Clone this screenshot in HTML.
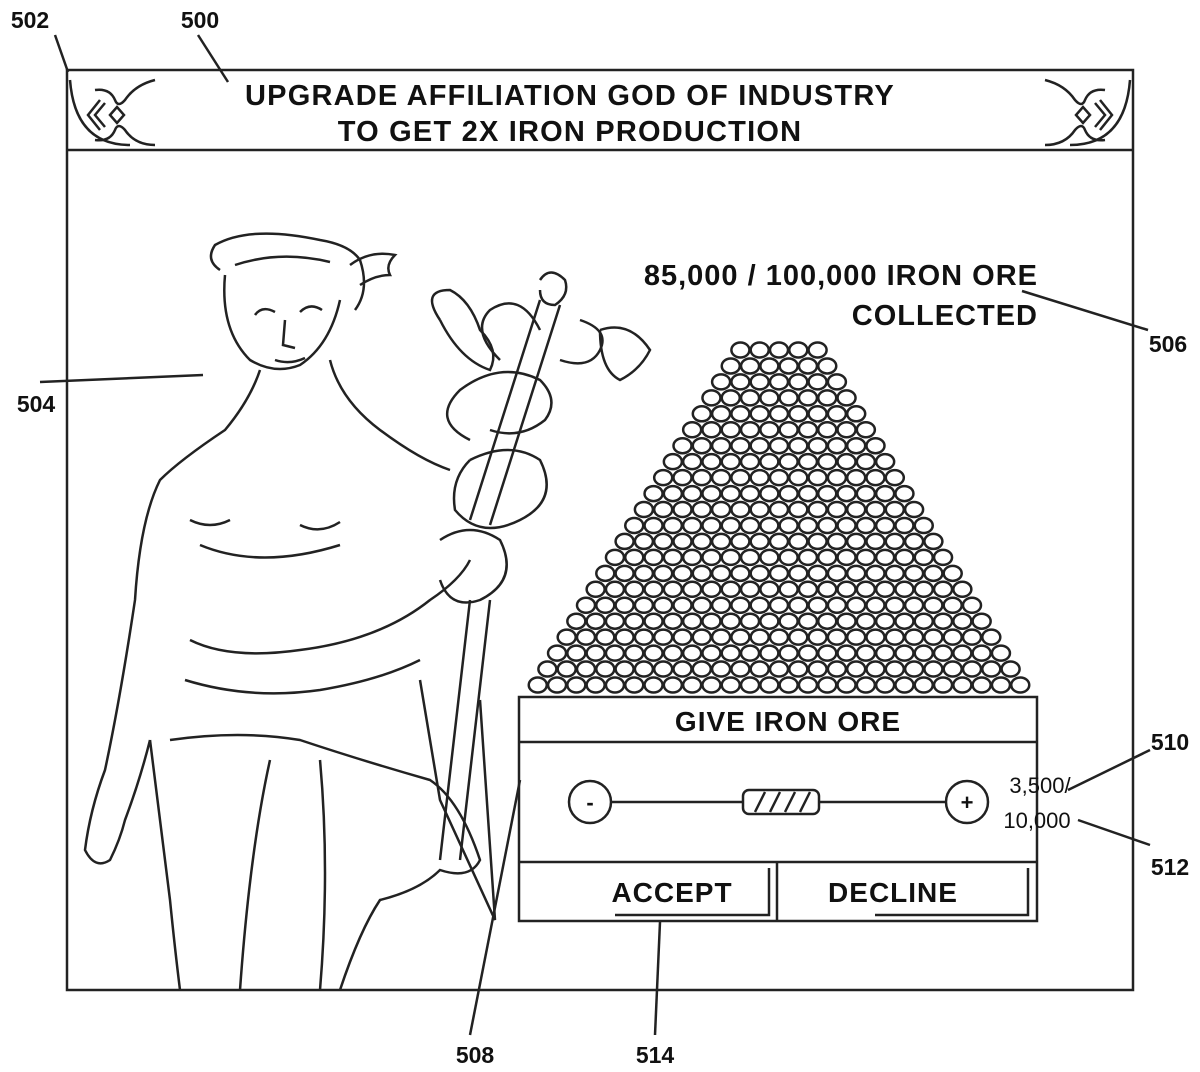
<!DOCTYPE html>
<html><head><meta charset="utf-8"><style>
html,body{margin:0;padding:0;background:#fff}
svg{display:block}
text{font-family:"Liberation Sans",Arial,sans-serif;font-weight:bold;fill:#111}
</style></head><body>
<svg id="s" width="1200" height="1072" viewBox="0 0 1200 1072" xmlns="http://www.w3.org/2000/svg">
<g fill="none" stroke="#222" stroke-width="2.5">
<rect x="67" y="70" width="1066" height="920"/>
<line x1="67" y1="150" x2="1133" y2="150"/>
<path d="M70 80 Q75 145 130 145"/>
<path d="M95 90 Q110 88 115 100 Q118 108 125 100 Q135 85 155 80"/>
<path d="M95 140 Q110 142 115 130 Q118 122 125 130 Q135 145 155 145"/>
<path d="M100 100 L88 115 L100 130 M105 103 L95 115 L105 127"/>
<path d="M110 115 L117 107 L124 115 L117 123 Z"/>
<path d="M1130 80 Q1125 145 1070 145"/>
<path d="M1105 90 Q1090 88 1085 100 Q1082 108 1075 100 Q1065 85 1045 80"/>
<path d="M1105 140 Q1090 142 1085 130 Q1082 122 1075 130 Q1065 145 1045 145"/>
<path d="M1100 100 L1112 115 L1100 130 M1095 103 L1105 115 L1095 127"/>
<path d="M1090 115 L1083 107 L1076 115 L1083 123 Z"/>
<line x1="55" y1="35" x2="68" y2="72"/>
<line x1="198" y1="35" x2="228" y2="82"/>
<line x1="1022" y1="291" x2="1148" y2="330"/>
<line x1="40" y1="382" x2="203" y2="375"/>
<line x1="1068" y1="790" x2="1150" y2="750"/>
<line x1="1078" y1="820" x2="1150" y2="845"/>
<line x1="470" y1="1035" x2="520" y2="780"/>
<line x1="655" y1="1035" x2="660" y2="922"/>
<path d="M220 270 Q205 260 215 245 Q250 225 320 240 Q350 245 360 260 Q370 290 355 310 M225 275 Q220 330 250 360 Q275 375 300 365 Q330 345 340 300"/>
<path d="M235 265 Q280 250 330 262"/>
<path d="M255 315 Q262 305 275 312 M300 312 Q310 302 322 310 M285 320 L283 345 L295 348 M275 360 Q290 365 305 358"/>
<path d="M350 265 Q370 250 395 255 Q385 265 390 275 Q375 275 360 285"/>
<path d="M260 370 Q250 400 225 430 Q180 460 160 480 Q140 520 135 600 Q120 700 105 770 Q90 810 85 850 Q95 870 110 860 Q120 840 125 820 Q140 780 150 740"/>
<path d="M330 360 Q340 400 380 430 Q420 460 450 470"/>
<path d="M150 740 Q160 820 170 900 Q175 950 180 990"/>
<path d="M190 640 Q230 660 300 650 Q380 640 430 600 Q460 580 470 560"/>
<path d="M185 680 Q250 700 320 690 Q380 680 420 660"/>
<path d="M170 740 Q240 730 300 740 Q360 760 430 780 Q460 800 480 860 Q470 880 440 870 Q420 890 380 900 Q360 930 340 990"/>
<path d="M270 760 Q250 850 240 990 M320 760 Q330 870 320 990"/>
<path d="M420 680 L440 800 L495 920 L480 700"/>
<path d="M190 520 Q210 530 230 520 M300 525 Q320 535 340 522"/>
<path d="M200 545 Q260 570 340 545"/>
<path d="M540 300 L470 520 M560 305 L490 525"/>
<path d="M540 280 Q550 265 565 280 Q570 295 555 305 Q540 305 540 290"/>
<path d="M470 440 Q430 420 460 390 Q500 360 540 380 Q560 400 545 420 Q520 440 490 430"/>
<path d="M500 360 Q470 330 490 310 Q520 290 540 330 M580 320 Q610 330 600 350 Q590 370 560 360"/>
<path d="M440 320 Q420 290 450 290 Q470 300 480 330 Q500 350 490 370 Q460 360 440 320"/>
<path d="M600 330 Q630 320 650 350 Q640 370 620 380 Q600 370 600 330"/>
<path d="M470 460 Q510 440 540 460 Q560 500 520 520 Q480 540 455 510 Q450 480 470 460"/>
<path d="M440 540 Q470 520 500 540 Q520 580 480 600 Q450 610 440 580"/>
<path d="M470 600 L440 860 M490 600 L460 860"/>
<rect x="519" y="697" width="518" height="224"/>
<line x1="519" y1="742" x2="1037" y2="742"/>
<line x1="519" y1="862" x2="1037" y2="862"/>
<line x1="777" y1="862" x2="777" y2="921"/>
<polyline points="615,915 769,915 769,868"/>
<polyline points="875,915 1028,915 1028,868"/>
<circle cx="590" cy="802" r="21"/>
<circle cx="967" cy="802" r="21"/>
<line x1="611" y1="802" x2="743" y2="802"/>
<line x1="819" y1="802" x2="946" y2="802"/>
<rect x="743" y="790" width="76" height="24" rx="6"/>
<path d="M755 812 L765 792 M770 812 L780 792 M785 812 L795 792 M800 812 L810 792"/>
</g>
<g id="ore" fill="#fff" stroke="#222" stroke-width="2.5"></g>
<text x="30" y="28" font-size="23" text-anchor="middle">502</text>
<text x="200" y="28" font-size="23" text-anchor="middle">500</text>
<text x="570" y="105" font-size="29" letter-spacing="1.2" text-anchor="middle">UPGRADE AFFILIATION GOD OF INDUSTRY</text>
<text x="570" y="141" font-size="29" letter-spacing="1.2" text-anchor="middle">TO GET 2X IRON PRODUCTION</text>
<text x="1038" y="285" font-size="29" letter-spacing="1" text-anchor="end">85,000 / 100,000 IRON ORE</text>
<text x="1038" y="325" font-size="29" letter-spacing="1" text-anchor="end">COLLECTED</text>
<text x="1168" y="352" font-size="23" text-anchor="middle">506</text>
<text x="36" y="412" font-size="23" text-anchor="middle">504</text>
<text x="788" y="731" font-size="28" letter-spacing="1" text-anchor="middle">GIVE IRON ORE</text>
<text x="590" y="810" font-size="22" text-anchor="middle">-</text>
<text x="967" y="810" font-size="22" text-anchor="middle">+</text>
<text x="1040" y="793" font-size="22" text-anchor="middle" style="font-weight:normal">3,500/</text>
<text x="1037" y="828" font-size="22" text-anchor="middle" style="font-weight:normal">10,000</text>
<text x="1170" y="750" font-size="23" text-anchor="middle">510</text>
<text x="1170" y="875" font-size="23" text-anchor="middle">512</text>
<text x="672" y="902" font-size="28" letter-spacing="1" text-anchor="middle">ACCEPT</text>
<text x="893" y="902" font-size="28" letter-spacing="1" text-anchor="middle">DECLINE</text>
<text x="475" y="1063" font-size="23" text-anchor="middle">508</text>
<text x="655" y="1063" font-size="23" text-anchor="middle">514</text>
</svg>
<script>
(function(){
var g=document.getElementById('ore'),ns='http://www.w3.org/2000/svg';
var rows=22,y0=350,y1=685,dy=(y1-y0)/(rows-1),sp=19.3;
for(var r=0;r<rows;r++){var n=5+r,y=y0+r*dy,cx=779;
for(var i=0;i<n;i++){var x=cx+(i-(n-1)/2)*sp;var e=document.createElementNS(ns,'ellipse');
e.setAttribute('cx',x);e.setAttribute('cy',y);e.setAttribute('rx',9);e.setAttribute('ry',7.5);g.appendChild(e);}}
})();
</script>
</body></html>
